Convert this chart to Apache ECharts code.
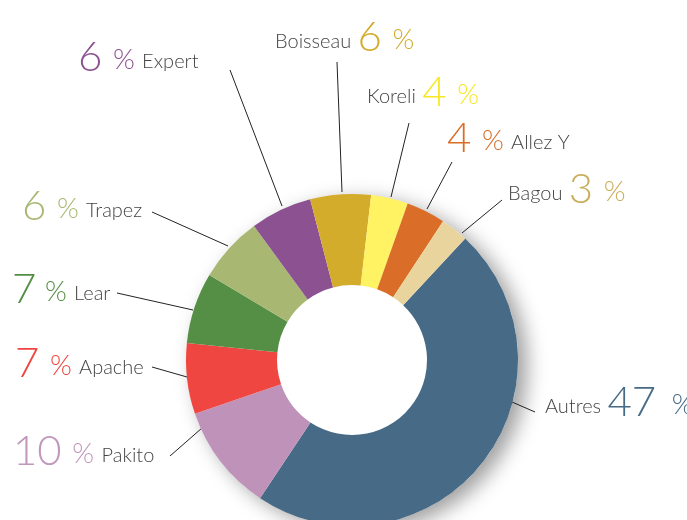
<!DOCTYPE html>
<html>
<head>
<meta charset="utf-8">
<script src="https://cdn.jsdelivr.net/npm/echarts@6/dist/echarts.min.js"></script>
<style>
  html, body { margin: 0; padding: 0; background: #fff; }
  #pie { width: 687px; height: 520px; }
</style>
</head>
<body>
<div id="pie"></div>
<script>
// shares, clockwise from the top right
var names = ["Autres", "Pakito", "Apache", "Lear", "Trapez", "Expert", "Boisseau", "Koreli", "Allez Y", "Bagou"];
var shares = [47.4, 10.4, 6.9, 6.9, 6.4, 6.0, 5.9, 3.6, 3.8, 2.7];
var sliceColors = ["#476b86", "#bf93b9", "#ef4641", "#548f45", "#a8b872", "#8b5190", "#d3ac2b", "#fff263", "#da6e28", "#ead49e"];
var numColors = ["#476b86", "#c197bc", "#ef4641", "#548f45", "#a8b872", "#8b5190", "#d3ac2b", "#f6e827", "#da6e28", "#c9ad5b"];
var nameFirst = ["Autres", "Boisseau", "Koreli", "Bagou"];

// label spot: left edge x, baseline y; leader line from label side to ring
var labelSpots = [
  { x: 545, y: 413, line: [[535, 412], [512, 402]] },
  { x: 13, y: 462, line: [[170, 456], [202, 428]] },
  { x: 15, y: 374, line: [[152, 367], [187, 377]] },
  { x: 12, y: 300, line: [[117, 293], [193, 310]] },
  { x: 22, y: 217, line: [[152, 212], [228, 246]] },
  { x: 78, y: 68, line: [[230, 70], [282, 206]] },
  { x: 275, y: 48, line: [[337, 62], [342, 192]] },
  { x: 367, y: 103, line: [[409, 123], [391, 197]] },
  { x: 447, y: 149, line: [[452, 162], [427, 209]] },
  { x: 508, y: 200, line: [[502, 200], [462, 233]] }
];

var chart = echarts.init(document.getElementById("pie"));

var pieData = names.map(function (n, i) {
  var pct = Math.round(shares[i]);
  var first = nameFirst.indexOf(n) >= 0;
  var txt = first
    ? "{name|" + n + "} {num|" + pct + "}{pct| %}"
    : "{num|" + pct + "}{pct| %} {nameR|" + n + "}";
  var nameStyle = { fontFamily: "Lato", fontWeight: 300, fontSize: 20, lineHeight: 20, color: "#444", verticalAlign: "bottom", padding: [0, 0, 6, 0] };
  return {
    name: n,
    value: shares[i],
    itemStyle: { color: sliceColors[i] },
    label: {
      formatter: txt,
      rich: {
        num: { fontFamily: "Lato", fontWeight: 300, fontSize: 42, lineHeight: 42, color: numColors[i], verticalAlign: "bottom", padding: [0, 0, 0, first ? 3 : 0] },
        pct: { fontFamily: "Lato", fontWeight: 300, fontSize: 28, lineHeight: 28, color: numColors[i], verticalAlign: "bottom", padding: [0, 0, 4, n === "Autres" ? 8 : (n === "Lear" ? 1 : 3)] },
        name: nameStyle,
        nameR: echarts.util.extend(echarts.util.clone(nameStyle), { padding: [0, 0, 6, 4] })
      }
    }
  };
});

chart.setOption({
  animation: false,
  series: [
    {
      // white disc only to cast the soft shadow behind the ring
      type: "pie",
      silent: true,
      center: [352, 360],
      radius: [0, 166],
      z: 1,
      label: { show: false },
      labelLine: { show: false },
      itemStyle: {
        color: "#fff",
        shadowBlur: 20,
        shadowOffsetX: 9,
        shadowOffsetY: 6,
        shadowColor: "rgba(0,0,0,0.38)"
      },
      data: [{ value: 1 }]
    },
    {
      type: "pie",
      center: [352, 360],
      radius: [75, 166],
      startAngle: 47,
      clockwise: true,
      avoidLabelOverlap: false,
      z: 2,
      label: { show: true, position: "outside" },
      labelLine: { show: true, length: 10, length2: 10, lineStyle: { color: "#222", width: 1 } },
      labelLayout: function (p) {
        var s = labelSpots[p.dataIndex];
        return {
          x: s.x,
          y: s.y + 10,
          align: "left",
          verticalAlign: "bottom",
          labelLinePoints: [s.line[1], s.line[0], s.line[0]]
        };
      },
      data: pieData
    }
  ]
});
</script>
</body>
</html>
